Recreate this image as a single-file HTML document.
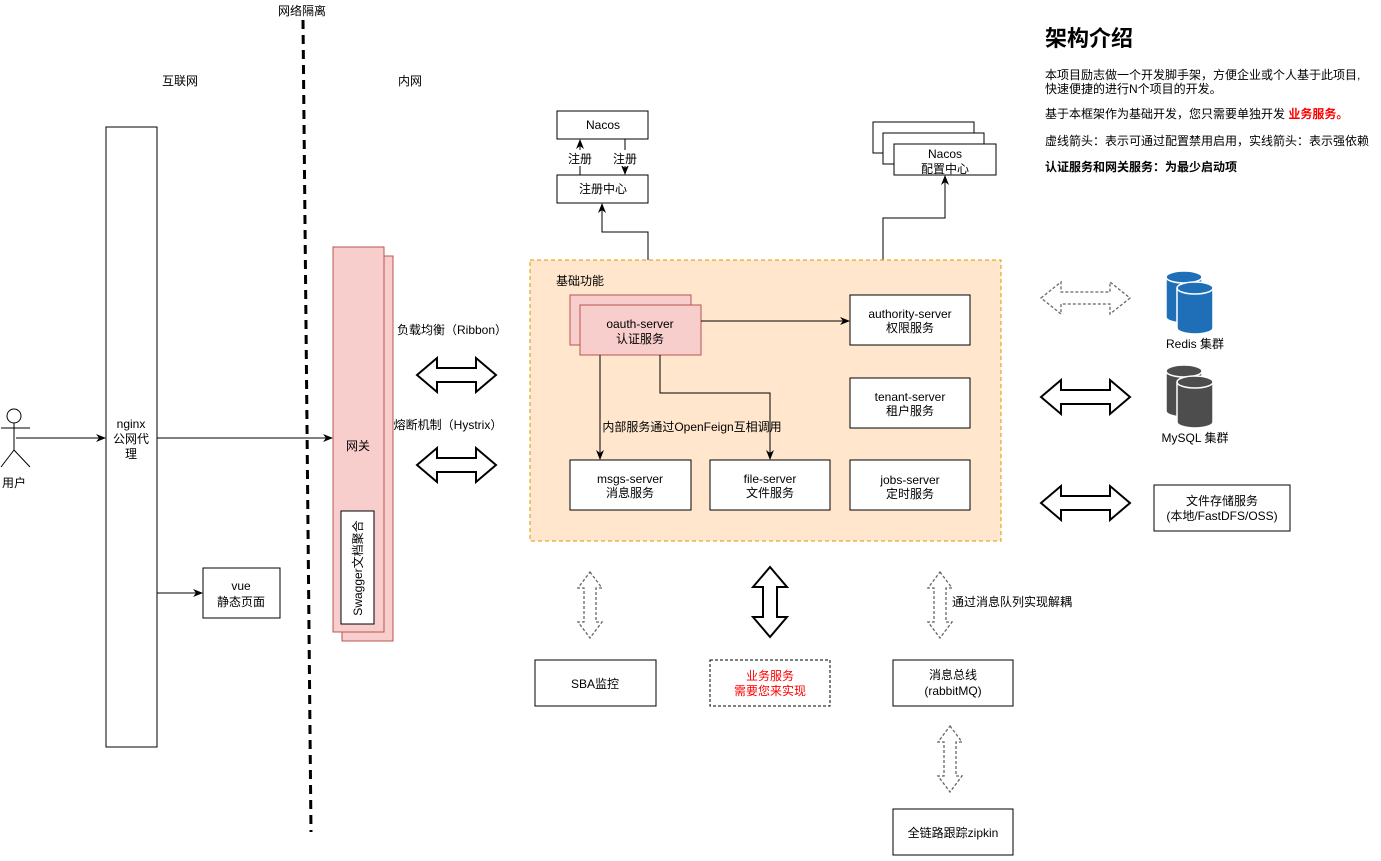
<!DOCTYPE html>
<html><head><meta charset="utf-8"><style>
html,body{margin:0;padding:0;background:#fff;}
svg text{font-family:"Liberation Sans","Noto Sans CJK SC",sans-serif;font-size:12px;fill:#000;}
</style></head><body>
<svg width="1381" height="856" viewBox="0 0 1381 856" xmlns="http://www.w3.org/2000/svg">
<defs>
<marker id="ah" viewBox="0 0 10 10" refX="9" refY="5" markerWidth="10" markerHeight="10" orient="auto" markerUnits="userSpaceOnUse"><path d="M0,1 L10,5 L0,9 L3,5 z" fill="#000"/></marker>
</defs>
<line x1="303" y1="20" x2="311" y2="832" stroke="#000" stroke-width="3" stroke-dasharray="9,6"/>
<text x="302" y="15" text-anchor="middle">网络隔离</text>
<text x="180" y="85" text-anchor="middle">互联网</text>
<text x="410" y="85" text-anchor="middle">内网</text>

<circle cx="14" cy="416" r="7" fill="#fff" stroke="#000"/>
<line x1="14" y1="423" x2="14" y2="450" stroke="#000"/>
<line x1="1" y1="428" x2="30" y2="428" stroke="#000"/>
<line x1="14" y1="450" x2="1" y2="467" stroke="#000"/>
<line x1="14" y1="450" x2="30" y2="467" stroke="#000"/>
<text x="14" y="487" text-anchor="middle">用户</text>
<line x1="16" y1="438" x2="105" y2="438" stroke="#000" marker-end="url(#ah)"/>

<rect x="106" y="127" width="51" height="620" fill="#fff" stroke="#000"/>
<text x="131" y="428" text-anchor="middle">nginx</text>
<text x="131" y="443" text-anchor="middle">公网代</text>
<text x="131" y="458" text-anchor="middle">理</text>
<line x1="157" y1="438" x2="332" y2="438" stroke="#000" marker-end="url(#ah)"/>
<line x1="157" y1="593" x2="202" y2="593" stroke="#000" marker-end="url(#ah)"/>
<rect x="203" y="568" width="77" height="50" fill="#fff" stroke="#000"/>
<text x="241" y="590" text-anchor="middle">vue</text>
<text x="241" y="606" text-anchor="middle">静态页面</text>

<rect x="342" y="256" width="51" height="385" fill="#f8cecc" stroke="#b85450"/>
<rect x="333" y="247" width="51" height="385" fill="#f8cecc" stroke="#b85450"/>
<text x="358" y="450" text-anchor="middle">网关</text>
<rect x="341" y="511" width="33" height="113" fill="#fff" stroke="#000"/>
<text x="0" y="0" transform="translate(362,568) rotate(-90)" text-anchor="middle">Swagger文档聚合</text>

<text x="452" y="334" text-anchor="middle">负载均衡（Ribbon）</text>
<text x="448" y="429" text-anchor="middle">熔断机制（Hystrix）</text>
<polygon points="417,375 437,358 437,368 476,368 476,358 496,375 476,392 476,382 437,382 437,392" fill="#fff" stroke="#000" stroke-width="2"/>
<polygon points="417,465 437,448 437,458 476,458 476,448 496,465 476,482 476,472 437,472 437,482" fill="#fff" stroke="#000" stroke-width="2"/>

<rect x="557" y="111" width="91" height="28" fill="#fff" stroke="#000"/>
<text x="603" y="129" text-anchor="middle">Nacos</text>
<rect x="557" y="175" width="91" height="28" fill="#fff" stroke="#000"/>
<text x="603" y="193" text-anchor="middle">注册中心</text>
<line x1="580" y1="175" x2="580" y2="140" stroke="#000" marker-end="url(#ah)"/>
<line x1="625" y1="139" x2="625" y2="174" stroke="#000" marker-end="url(#ah)"/>
<rect x="566" y="150" width="28" height="16" fill="#fff"/>
<rect x="611" y="150" width="28" height="16" fill="#fff"/>
<text x="580" y="163" text-anchor="middle">注册</text>
<text x="625" y="163" text-anchor="middle">注册</text>
<polyline points="648,260 648,232 602,232 602,204" fill="none" stroke="#000" marker-end="url(#ah)"/>

<rect x="873" y="122" width="101" height="31" fill="#fff" stroke="#000"/>
<rect x="883" y="133" width="101" height="31" fill="#fff" stroke="#000"/>
<rect x="894" y="144" width="102" height="31" fill="#fff" stroke="#000"/>
<text x="945" y="158" text-anchor="middle">Nacos</text>
<text x="945" y="173" text-anchor="middle">配置中心</text>
<polyline points="883,260 883,218 945,218 945,176" fill="none" stroke="#000" marker-end="url(#ah)"/>

<rect x="530" y="260" width="471" height="281" fill="#ffe6cc" stroke="#d79b00" stroke-dasharray="4,3"/>
<text x="580" y="285" text-anchor="middle">基础功能</text>
<rect x="570" y="295" width="121" height="50" fill="#f8cecc" stroke="#b85450"/>
<rect x="580" y="305" width="121" height="50" fill="#f8cecc" stroke="#b85450"/>
<text x="640" y="328" text-anchor="middle">oauth-server</text>
<text x="640" y="343" text-anchor="middle">认证服务</text>
<line x1="701" y1="321" x2="849" y2="321" stroke="#000" marker-end="url(#ah)"/>
<rect x="850" y="295" width="120" height="50" fill="#fff" stroke="#000"/>
<text x="910" y="318" text-anchor="middle">authority-server</text>
<text x="910" y="332" text-anchor="middle">权限服务</text>
<rect x="850" y="378" width="120" height="50" fill="#fff" stroke="#000"/>
<text x="910" y="401" text-anchor="middle">tenant-server</text>
<text x="910" y="415" text-anchor="middle">租户服务</text>
<line x1="600" y1="355" x2="600" y2="459" stroke="#000" marker-end="url(#ah)"/>
<polyline points="660,355 660,393 770,393 770,459" fill="none" stroke="#000" marker-end="url(#ah)"/>
<text x="692" y="431" text-anchor="middle">内部服务通过OpenFeign互相调用</text>
<rect x="570" y="460" width="121" height="50" fill="#fff" stroke="#000"/>
<text x="630" y="483" text-anchor="middle">msgs-server</text>
<text x="630" y="497" text-anchor="middle">消息服务</text>
<rect x="710" y="460" width="120" height="50" fill="#fff" stroke="#000"/>
<text x="770" y="483" text-anchor="middle">file-server</text>
<text x="770" y="497" text-anchor="middle">文件服务</text>
<rect x="850" y="460" width="120" height="50" fill="#fff" stroke="#000"/>
<text x="910" y="484" text-anchor="middle">jobs-server</text>
<text x="910" y="498" text-anchor="middle">定时服务</text>

<polygon points="1041,298 1061,282 1061,292 1110,292 1110,282 1130,298 1110,314 1110,304 1061,304 1061,314" fill="#fff" stroke="#666" stroke-width="1.3" stroke-dasharray="3,2"/>
<polygon points="1041,397 1061,380 1061,390 1110,390 1110,380 1130,397 1110,414 1110,404 1061,404 1061,414" fill="#fff" stroke="#000" stroke-width="2"/>
<polygon points="1041,503 1061,486 1061,496 1110,496 1110,486 1130,503 1110,520 1110,510 1061,510 1061,520" fill="#fff" stroke="#000" stroke-width="2"/>

<g fill="#1f6fb8" stroke="#fff" stroke-width="1.5">
<path d="M1166,277 a18,6 0 0,1 36,0 v40 a18,6 0 0,1 -36,0 z"/>
<path d="M1166,277 a18,6 0 0,0 36,0" fill="none"/>
<path d="M1177,288 a18,6 0 0,1 36,0 v40 a18,6 0 0,1 -36,0 z"/>
<path d="M1177,288 a18,6 0 0,0 36,0" fill="none"/>
</g>
<text x="1195" y="348" text-anchor="middle">Redis 集群</text>
<g fill="#4d4d4d" stroke="#fff" stroke-width="1.5">
<path d="M1166,371 a18,6 0 0,1 36,0 v40 a18,6 0 0,1 -36,0 z"/>
<path d="M1166,371 a18,6 0 0,0 36,0" fill="none"/>
<path d="M1177,382 a18,6 0 0,1 36,0 v40 a18,6 0 0,1 -36,0 z"/>
<path d="M1177,382 a18,6 0 0,0 36,0" fill="none"/>
</g>
<text x="1195" y="442" text-anchor="middle">MySQL 集群</text>
<rect x="1154" y="485" width="136" height="46" fill="#fff" stroke="#000"/>
<text x="1222" y="505" text-anchor="middle">文件存储服务</text>
<text x="1222" y="520" text-anchor="middle">(本地/FastDFS/OSS)</text>

<polygon points="590,572 602,588 596,588 596,622 602,622 590,638 578,622 584,622 584,588 578,588" fill="#fff" stroke="#666" stroke-width="1.3" stroke-dasharray="3,2"/>
<polygon points="940,572 952,588 946,588 946,622 952,622 940,638 928,622 934,622 934,588 928,588" fill="#fff" stroke="#666" stroke-width="1.3" stroke-dasharray="3,2"/>
<polygon points="950,726 962,742 956,742 956,776 962,776 950,792 938,776 944,776 944,742 938,742" fill="#fff" stroke="#666" stroke-width="1.3" stroke-dasharray="3,2"/>
<polygon points="770,567 787,587 777,587 777,617 787,617 770,637 753,617 763,617 763,587 753,587" fill="#fff" stroke="#000" stroke-width="2"/>
<text x="1012" y="606" text-anchor="middle">通过消息队列实现解耦</text>
<rect x="535" y="660" width="121" height="46" fill="#fff" stroke="#000"/>
<text x="595" y="688" text-anchor="middle">SBA监控</text>
<rect x="710" y="660" width="120" height="46" fill="#fff" stroke="#000" stroke-dasharray="3,2"/>
<text x="770" y="680" text-anchor="middle" style="fill:#f00">业务服务</text>
<text x="770" y="695" text-anchor="middle" style="fill:#f00">需要您来实现</text>
<rect x="893" y="660" width="120" height="46" fill="#fff" stroke="#000"/>
<text x="953" y="679" text-anchor="middle">消息总线</text>
<text x="953" y="695" text-anchor="middle">(rabbitMQ)</text>
<rect x="893" y="809" width="120" height="46" fill="#fff" stroke="#000"/>
<text x="953" y="837" text-anchor="middle">全链路跟踪zipkin</text>

<text x="1045" y="46" style="font-size:22px;font-weight:bold">架构介绍</text>
<text x="1045" y="79">本项目励志做一个开发脚手架，方便企业或个人基于此项目,</text>
<text x="1045" y="93">快速便捷的进行N个项目的开发。</text>
<text x="1045" y="118">基于本框架作为基础开发，您只需要单独开发 <tspan style="fill:#f00;font-weight:bold">业务服务。</tspan></text>
<text x="1045" y="145">虚线箭头：表示可通过配置禁用启用，实线箭头：表示强依赖</text>
<text x="1045" y="171" style="font-weight:bold">认证服务和网关服务：为最少启动项</text>
</svg>
</body></html>
